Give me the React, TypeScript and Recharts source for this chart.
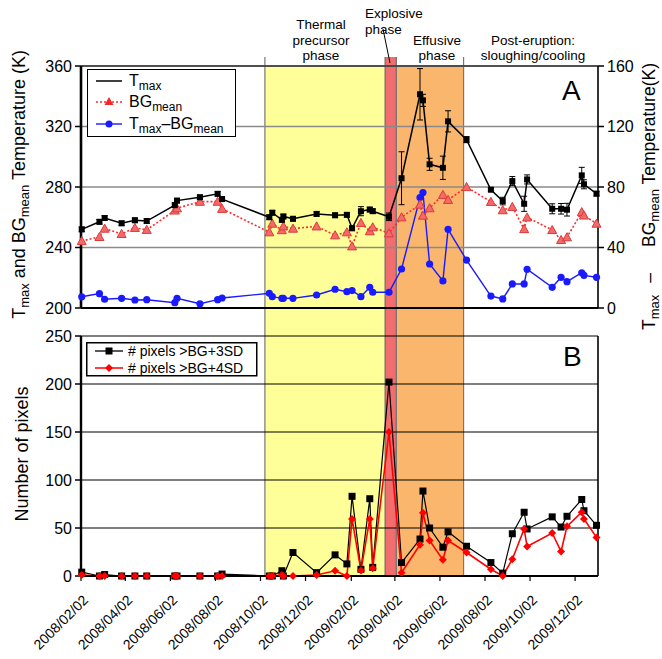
import React from "react";
import {
  ComposedChart,
  Line,
  XAxis,
  YAxis,
  CartesianGrid,
  ReferenceArea,
  ReferenceLine,
  ErrorBar,
  Legend,
} from "recharts";

// scene dates (yyyy/mm/dd)
const dates = [
  "2008/02/03", "2008/02/27", "2008/03/05", "2008/03/28", "2008/04/15", "2008/05/01",
  "2008/06/08", "2008/06/11", "2008/07/12", "2008/08/05", "2008/08/11",
  "2008/10/14", "2008/10/18", "2008/10/31", "2008/11/02", "2008/11/15", "2008/12/17",
  "2009/01/11", "2009/01/27", "2009/02/03", "2009/02/15", "2009/02/27", "2009/03/03",
  "2009/03/25", "2009/04/11", "2009/05/06", "2009/05/10", "2009/05/19", "2009/06/06", "2009/06/13",
  "2009/07/08", "2009/08/10", "2009/08/26", "2009/09/08", "2009/09/24", "2009/09/28",
  "2009/11/01", "2009/11/13", "2009/11/21", "2009/12/11", "2009/12/14", "2009/12/31",
];

// panel A (K)
const tmax = [
  252, 257, 259.5, 256, 258, 257.5,
  268, 271, 273.2, 275.5, 272,
  260, 263, 258.3, 260.5, 259, 262.2,
  261.3, 261.6, 252.7, 264, 265.1, 264,
  260.3, 285.8, 341.3, 337.3, 295, 292.7, 323.4,
  311.3, 278.2, 270.7, 283.9, 268.9, 285,
  265.6, 265.6, 265, 287.7, 281.8, 275.6,
];
const tmaxErr = [
  1.5, 1.5, 1.5, 1.5, 1.5, 1.5,
  1.5, 1.5, 1.5, 1.5, 1.5,
  1.5, 1.5, 1.5, 1.5, 1.5, 1.5,
  1.5, 1.5, 1.5, 3, 1.5, 1.5,
  2.5, 17.5, 17, 4, 4, 7.7, 7,
  2, 1, 2.5, 3, 5, 3,
  3.3, 3.5, 4.2, 5.3, 3, 1.5,
];
const bgMean = [
  244.3, 247, 252.5, 249, 253, 251.7,
  264.5, 266, 270.3, 270.3, 265.6,
  250.1, 255.8, 251.5, 254, 252.5, 254,
  248.1, 250.1, 240.8, 256.3, 250.8, 253.4,
  249.4, 260, 268.4, 261.1, 266, 274.8, 271.5,
  280, 270.2, 264.7, 266.9, 252.2, 259.9,
  251.6, 245, 246.8, 263.4, 261.2, 255.8,
];
const tDiff = [
  7.4, 9.5, 5.8, 6.4, 5.3, 5.5,
  3.5, 6.4, 2.8, 5.5, 6.6,
  9.7, 7.5, 6.4, 6.4, 6.4, 8.6,
  12.4, 10.8, 11.5, 7.5, 13.7, 10.4,
  10.4, 25.8, 73, 76.3, 29.1, 17.9, 52,
  31.7, 7.9, 6, 15.9, 15.9, 25.6,
  13.7, 20.3, 17.4, 23.3, 21.6, 20.3,
];

// panel B (pixel counts)
const px3sd = [
  4, 0, 1.5, 0, 0, 0,
  0, 0, 0, 0, 2,
  0, 0, 5.5, 0, 24.5, 3.5,
  22, 12.6, 83, 7, 80.5, 9,
  202, 14, 38.5, 88.5, 50, 30, 46,
  31, 14, 3, 44, 66.4, 49,
  61.6, 51, 62.2, 79.7, 68, 52.8,
];
const px4sd = [
  1, 0, 0, 0, 0, 0,
  0, 0, 0, 0, 0,
  0, 0, 1, 0, 0, 1,
  5.5, 0, 59.5, 5.6, 59.5, 8,
  150, 3.5, 32.5, 65.8, 37, 16.8, 37,
  24.5, 7, 0, 17.5, 49, 30.7,
  44.8, 25.5, 51.7, 66.4, 59.5, 40.2,
];

const axisStart = "2008/02/02";
const axisEnd = "2010/01/02";
const tickLabels = [
  "2008/02/02", "2008/04/02", "2008/06/02", "2008/08/02", "2008/10/02", "2008/12/02",
  "2009/02/02", "2009/04/02", "2009/06/02", "2009/08/02", "2009/10/02", "2009/12/02",
];

const phaseStart = ["2008/10/08", "2009/03/20", "2009/04/04"];
const phaseEnd = ["2009/03/20", "2009/04/04", "2009/07/04"];
const phaseFill = ["#ffff99", "#f26d6d", "#f9b66c"];

function toMs(s: string) {
  const [y, m, d] = s.split("/").map(Number);
  return Date.UTC(y, m - 1, d);
}
function fmt(ms: number) {
  const d = new Date(ms);
  const mm = String(d.getUTCMonth() + 1).padStart(2, "0");
  const dd = String(d.getUTCDate()).padStart(2, "0");
  return `${d.getUTCFullYear()}/${mm}/${dd}`;
}

const rows = dates.map((d, i) => ({
  t: toMs(d),
  tmax: tmax[i],
  tmaxErr: tmaxErr[i],
  bg: bgMean[i],
  diff: tDiff[i],
  px3: px3sd[i],
  px4: px4sd[i],
}));

const xDomain = [toMs(axisStart), toMs(axisEnd)];
const majorTicks = tickLabels.map(toMs);
const monthTicks: number[] = [];
for (let m = 0; m < 23; m++) monthTicks.push(Date.UTC(2008, 1 + m, 2));

const FONT = '"Liberation Sans", Arial, Helvetica, sans-serif';

// shading with boundary lines; may reach above / below the plot box
function phaseShape(fill: string, topFill: number, topLine: number, bottom: number) {
  return (p: any) => {
    const { x, y, width, height } = p;
    const yb = y + height + bottom;
    return (
      <g>
        <rect x={x} y={y - topFill} width={width} height={height + topFill + bottom} fill={fill} />
        <line x1={x} x2={x} y1={y - topLine} y2={yb} stroke="#777" strokeWidth={1.2} />
        <line x1={x + width} x2={x + width} y1={y - topLine} y2={yb} stroke="#777" strokeWidth={1.2} />
      </g>
    );
  };
}

const squareDot = (size: number) => (p: any) => (
  <rect key={`s${p.index}`} x={p.cx - size / 2} y={p.cy - size / 2} width={size} height={size} fill="#000" />
);
const triPath = (cx: number, cy: number, s: number) =>
  `M${cx},${cy - s} L${cx + s},${cy + s * 0.8} L${cx - s},${cy + s * 0.8} Z`;
const triDot = (p: any) => (
  <path key={`t${p.index}`} d={triPath(p.cx, p.cy, 4.5)} fill="#f26a6a" stroke="#dc3a3a" strokeWidth={1} />
);
const circleDot = (p: any) => <circle key={`c${p.index}`} cx={p.cx} cy={p.cy} r={3.6} fill="#1a1aff" />;
const diamondPath = (cx: number, cy: number, s: number) =>
  `M${cx},${cy - s} L${cx + s},${cy} L${cx},${cy + s} L${cx - s},${cy} Z`;
const diamondDot = (p: any) => <path key={`d${p.index}`} d={diamondPath(p.cx, p.cy, 4)} fill="#ff0000" />;

const DateTick = (p: any) => {
  const ax = p.x + 8;
  const ay = p.y + 20;
  return (
    <text x={ax} y={ay} textAnchor="end" fontSize={14} fill="#000" transform={`rotate(-45 ${ax} ${ay})`}>
      {fmt(p.payload.value)}
    </text>
  );
};

const LegendA = () => (
  <svg width={150} height={69} style={{ display: "block", fontFamily: FONT }}>
    <rect x={0.5} y={0.5} width={148} height={67} fill="#fff" stroke="#000" strokeWidth={1} />
    <line x1={9} x2={35} y1={12} y2={12} stroke="#000" strokeWidth={1.5} />
    <text x={42} y={17} fontSize={16}>
      T<tspan fontSize={12} dy={4}>max</tspan>
    </text>
    <line x1={9} x2={35} y1={33} y2={33} stroke="#ff2a2a" strokeWidth={1.6} strokeDasharray="2 2" />
    <path d={triPath(22, 32.5, 4.5)} fill="#f02a2a" />
    <text x={42} y={38} fontSize={16}>
      BG<tspan fontSize={12} dy={4}>mean</tspan>
    </text>
    <line x1={9} x2={35} y1={55} y2={55} stroke="#1a1aff" strokeWidth={1.4} />
    <circle cx={22} cy={55} r={3.5} fill="#1a1aff" />
    <text x={42} y={60} fontSize={16}>
      T<tspan fontSize={12} dy={4}>max</tspan>
      <tspan dy={-4}>–BG</tspan>
      <tspan fontSize={12} dy={4}>mean</tspan>
    </text>
  </svg>
);

const LegendB = () => (
  <svg width={173} height={36} style={{ display: "block", fontFamily: FONT }}>
    <rect x={0.75} y={0.75} width={170} height={33} fill="#fff" stroke="#000" strokeWidth={1.5} />
    <line x1={9} x2={37} y1={9} y2={9} stroke="#000" strokeWidth={1.3} />
    <rect x={19.5} y={5.5} width={7} height={7} fill="#000" />
    <text x={42} y={14} fontSize={14}># pixels &gt;BG+3SD</text>
    <line x1={9} x2={37} y1={26} y2={26} stroke="#ff0000" strokeWidth={1.5} />
    <path d={diamondPath(23, 26, 4)} fill="#ff0000" />
    <text x={42} y={31} fontSize={14}># pixels &gt;BG+4SD</text>
  </svg>
);

export default function App() {
  return (
    <div
      style={{
        position: "absolute",
        left: 0,
        top: 0,
        width: 662,
        height: 659,
        background: "#fff",
        fontFamily: FONT,
        overflow: "hidden",
      }}
    >
      {/* Panel A */}
      <div style={{ position: "absolute", left: 0, top: 0 }}>
        <ComposedChart width={662} height={336} data={rows} margin={{ top: 66, right: 24, bottom: 0, left: 31 }}>
          {phaseStart.map((s, i) => (
            <ReferenceArea
              key={`pa${i}`}
              x1={toMs(s)}
              x2={toMs(phaseEnd[i])}
              shape={phaseShape(phaseFill[i], i === 1 ? 9 : 0, 9, 28)}
              zIndex={-200}
            />
          ))}
          <CartesianGrid vertical={false} stroke="#8a8a8a" strokeWidth={1.4} />
          <ReferenceLine y={360} stroke="#333" strokeWidth={1.6} />
          <XAxis
            type="number"
            dataKey="t"
            domain={xDomain}
            ticks={monthTicks}
            interval={0}
            tick={false}
            tickSize={7}
            height={28}
            axisLine={{ stroke: "#000", strokeWidth: 2 }}
            tickLine={{ stroke: "#000", strokeWidth: 1.5 }}
          />
          <YAxis
            domain={[200, 360]}
            ticks={[200, 240, 280, 320, 360]}
            interval={0}
            width={50}
            tickSize={6}
            tickMargin={3}
            tick={{ fontSize: 16, fill: "#000" }}
            axisLine={{ stroke: "#000", strokeWidth: 2.6 }}
            tickLine={{ stroke: "#000", strokeWidth: 1.5 }}
          />
          <YAxis
            yAxisId="R"
            orientation="right"
            domain={[0, 160]}
            ticks={[0, 40, 80, 120, 160]}
            interval={0}
            width={40}
            tickSize={6}
            tickMargin={3}
            tick={{ fontSize: 16, fill: "#000" }}
            axisLine={{ stroke: "#000", strokeWidth: 1.6 }}
            tickLine={{ stroke: "#000", strokeWidth: 1.5 }}
          />
          <Line
            yAxisId="R"
            dataKey="diff"
            stroke="#1a1aff"
            strokeWidth={1.4}
            dot={circleDot}
            activeDot={false}
            isAnimationActive={false}
          />
          <Line
            dataKey="bg"
            stroke="#ff2a2a"
            strokeWidth={1.6}
            strokeDasharray="2 2"
            dot={triDot}
            activeDot={false}
            isAnimationActive={false}
          />
          <Line
            dataKey="tmax"
            stroke="#000"
            strokeWidth={1.5}
            dot={squareDot(6)}
            activeDot={false}
            isAnimationActive={false}
          >
            <ErrorBar dataKey="tmaxErr" width={3} stroke="#000" strokeWidth={1} />
          </Line>
          <Legend
            layout="vertical"
            align="center"
            verticalAlign="middle"
            content={() => <LegendA />}
            wrapperStyle={{ left: 87, top: 69, width: 150, height: 69 }}
          />
        </ComposedChart>
      </div>

      {/* Panel B */}
      <div style={{ position: "absolute", left: 0, top: 320 }}>
        <ComposedChart width={662} height={339} data={rows} margin={{ top: 16, right: 64, bottom: 0, left: 31 }}>
          {phaseStart.map((s, i) => (
            <ReferenceArea
              key={`pb${i}`}
              x1={toMs(s)}
              x2={toMs(phaseEnd[i])}
              shape={phaseShape(phaseFill[i], 0, 0, 0)}
              zIndex={-200}
            />
          ))}
          <CartesianGrid vertical={false} stroke="#000" strokeWidth={1.2} />
          <ReferenceLine x={xDomain[1]} stroke="#000" strokeWidth={1.6} />
          <XAxis
            type="number"
            dataKey="t"
            domain={xDomain}
            ticks={majorTicks}
            interval={0}
            tick={<DateTick />}
            tickSize={5}
            tickMargin={0}
            height={83}
            axisLine={{ stroke: "#000", strokeWidth: 2 }}
            tickLine={{ stroke: "#000", strokeWidth: 1.2 }}
          />
          <YAxis
            domain={[0, 250]}
            ticks={[0, 50, 100, 150, 200, 250]}
            interval={0}
            width={50}
            tickSize={6}
            tickMargin={3}
            tick={{ fontSize: 16, fill: "#000" }}
            axisLine={{ stroke: "#000", strokeWidth: 2.4 }}
            tickLine={{ stroke: "#000", strokeWidth: 1.5 }}
          />
          <Line
            dataKey="px3"
            stroke="#000"
            strokeWidth={1.2}
            dot={squareDot(7)}
            activeDot={false}
            isAnimationActive={false}
          />
          <Line
            dataKey="px4"
            stroke="#ff0000"
            strokeWidth={1.6}
            dot={diamondDot}
            activeDot={false}
            isAnimationActive={false}
          />
          <Legend
            layout="vertical"
            align="center"
            verticalAlign="middle"
            content={() => <LegendB />}
            wrapperStyle={{ left: 86, top: 22, width: 173, height: 36 }}
          />
        </ComposedChart>
      </div>

      {/* titles and annotations */}
      <svg
        width={662}
        height={659}
        style={{ position: "absolute", left: 0, top: 0, pointerEvents: "none", fontFamily: FONT }}
      >
        <text transform="rotate(-90)" x={-50} y={25} textAnchor="end" fontSize={18} fill="#000">
          T<tspan fontSize={13} dy={4}>max</tspan>
          <tspan dy={-4}> and BG</tspan>
          <tspan fontSize={13} dy={4}>mean</tspan>
          <tspan dy={-4}> Temperature (K)</tspan>
        </text>
        <text transform="rotate(-90)" x={-63} y={655} textAnchor="end" fontSize={17.5} fill="#000">
          T<tspan fontSize={13} dy={4}>max</tspan>
          <tspan dy={-4} dx={12}>–</tspan>
          <tspan dx={26}>BG</tspan>
          <tspan fontSize={13} dy={4}>mean</tspan>
          <tspan dy={-4}> Temperature(K)</tspan>
        </text>
        <text transform="rotate(-90)" x={-454} y={28} textAnchor="middle" fontSize={18} fill="#000">
          Number of pixels
        </text>

        <text fontSize={13.5} fill="#000" textAnchor="middle">
          <tspan x={321} y={29}>Thermal</tspan>
          <tspan x={321} dy={15.5}>precursor</tspan>
          <tspan x={321} dy={15.5}>phase</tspan>
        </text>
        <text fontSize={13.5} fill="#000">
          <tspan x={365} y={18}>Explosive</tspan>
          <tspan x={365} dy={15.5}>phase</tspan>
        </text>
        <text fontSize={13.5} fill="#000" textAnchor="middle">
          <tspan x={437} y={44.5}>Effusive</tspan>
          <tspan x={437} dy={15.5}>phase</tspan>
        </text>
        <text fontSize={13.5} fill="#000" textAnchor="middle">
          <tspan x={533} y={44.5}>Post-eruption:</tspan>
          <tspan x={533} dy={15.5}>sloughing/cooling</tspan>
        </text>
        <line x1={383} y1={29} x2={390} y2={63} stroke="#000" strokeWidth={1} />

        <text x={562} y={100} fontSize={28} fill="#000">A</text>
        <text x={563} y={366} fontSize={28} fill="#000">B</text>
      </svg>
    </div>
  );
}
